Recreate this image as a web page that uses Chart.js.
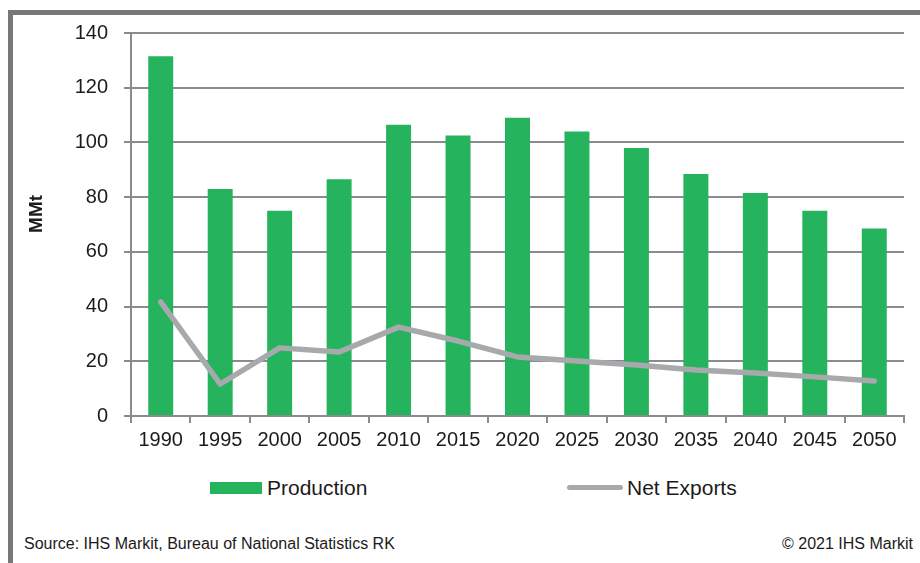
<!DOCTYPE html>
<html>
<head>
<meta charset="utf-8">
<script src="https://cdn.jsdelivr.net/npm/chart.js@4.4.1/dist/chart.umd.min.js"></script>
<style>
  html, body { margin: 0; padding: 0; background: #fff; }
  body { width: 920px; height: 563px; position: relative; overflow: hidden;
         font-family: "Liberation Sans", Arial, sans-serif; color: #1d1a1b; }
  #frame { position: absolute; left: 8px; top: 10px; right: -10px; bottom: -10px;
           border-left: 5px solid #77787b; border-top: 5px solid #77787b; }
  #wrap { position: absolute; left: 14px; top: 16px; width: 906px; height: 440px; }
  #legend { position: absolute; top: 476px; left: 0; width: 920px; height: 24px; font-size: 21px; }
  .item { position: absolute; top: 0; height: 24px; line-height: 24px; white-space: nowrap; }
  .swatch { position: absolute; left: 0; }
  .item span.label { position: absolute; white-space: nowrap; }
  .note { position: absolute; top: 535px; font-size: 16px; }
</style>
</head>
<body>
<div id="frame"></div>
<div id="wrap"><canvas id="chart"></canvas></div>
<div id="legend"></div>
<div class="note" style="left:24px">Source: IHS Markit, Bureau of National Statistics RK</div>
<div class="note" style="right:7px">© 2021 IHS Markit</div>
<script>
const years      = ['1990','1995','2000','2005','2010','2015','2020','2025','2030','2035','2040','2045','2050'];
const production = [131.5, 83, 75, 86.5, 106.5, 102.5, 109, 104, 98, 88.5, 81.5, 75, 68.5];
const netExports = [41.7, 11.7, 24.9, 23.4, 32.5, 27.4, 21.6, 20.1, 18.6, 16.8, 15.7, 14.3, 12.8];
const yTicks     = [0, 20, 40, 60, 80, 100, 120, 140];

const GREEN = '#25b35d';
const GREY  = '#a7a9ac';
const AXIS  = '#8a8b8e';
const TEXT  = '#1d1a1b';
const FONT  = '"Liberation Sans", Arial, sans-serif';

const ctx = document.getElementById('chart').getContext('2d');

const chart = new Chart(ctx, {
    data: {
        labels: years,
        datasets: [
            {
                type: 'line',
                label: 'Net Exports',
                data: netExports,
                borderColor: GREY,
                backgroundColor: GREY,
                borderWidth: 5.5,
                borderCapStyle: 'round',
                borderJoinStyle: 'round',
                pointRadius: 0,
                tension: 0,
                order: 0,
            },
            {
                type: 'bar',
                label: 'Production',
                data: production,
                backgroundColor: GREEN,
                barPercentage: 0.42,
                categoryPercentage: 1,
                order: 1,
            },
        ],
    },
    options: {
        responsive: true,
        maintainAspectRatio: false,
        animation: false,
        layout: { padding: { top: 17, right: 16, bottom: 0, left: 0 } },
        plugins: {
            legend: { display: false },
            tooltip: { enabled: false },
        },
        scales: {
            x: {
                offset: true,
                grid: { offset: true, drawOnChartArea: false, color: AXIS, lineWidth: 2, tickLength: 7 },
                border: { color: AXIS, width: 2 },
                ticks: { color: TEXT, padding: 5, font: { family: FONT, size: 20 }, maxRotation: 0 },
                afterFit: s => { s.height = 40; },
            },
            y: {
                min: 0,
                max: 140,
                afterBuildTicks: s => { s.ticks = yTicks.map(v => ({ value: v })); },
                grid: { color: AXIS, lineWidth: 2, tickLength: 7 },
                border: { color: AXIS, width: 2 },
                ticks: { color: TEXT, padding: 16, font: { family: FONT, size: 20 } },
                title: {
                    display: true,
                    // leading spaces nudge the rotated title up a little, as in the original
                    text: '    MMt',
                    color: TEXT,
                    font: { family: FONT, size: 19, weight: 'bold' },
                    padding: { top: 11, bottom: 0 },
                },
                // fixed width, and no extra room for the end labels so the plot top is set by layout padding
                afterFit: s => { s.width = 117; s.paddingTop = 0; s.paddingBottom = 0; },
            },
        },
    },
});

// html legend built from the datasets
const legend = document.getElementById('legend');
const legendPos = { 'Production': 210, 'Net Exports': 567 };
['Production', 'Net Exports'].forEach(name => {
    const ds = chart.data.datasets.find(d => d.label === name);
    const item = document.createElement('div');
    item.className = 'item';
    item.style.left = legendPos[name] + 'px';
    const sw = document.createElement('div');
    sw.className = 'swatch';
    if (ds.type === 'bar') {
        sw.style.cssText += 'top:6px;width:52px;height:12px;background:' + ds.backgroundColor;
    } else {
        sw.style.cssText += 'top:9px;width:56px;height:5px;border-radius:3px;background:' + ds.borderColor;
    }
    const lb = document.createElement('span');
    lb.className = 'label';
    lb.style.left = (ds.type === 'bar' ? 57 : 60) + 'px';
    lb.textContent = name;
    item.appendChild(sw);
    item.appendChild(lb);
    legend.appendChild(item);
});
</script>
</body>
</html>
